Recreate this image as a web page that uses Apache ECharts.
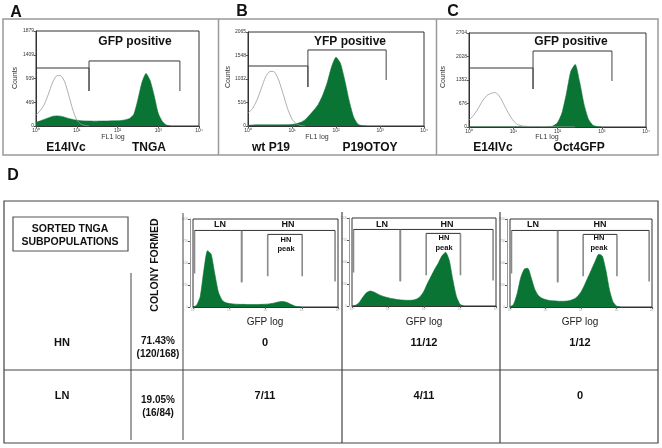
<!DOCTYPE html>
<html>
<head>
<meta charset="utf-8">
<script src="https://cdn.jsdelivr.net/npm/echarts@6/dist/echarts.min.js"></script>
<style>
html, body {margin: 0; padding: 0; background: #fff;}
#main {width: 662px; height: 448px;}
</style>
</head>
<body>
<div id="main"></div>
<script>
// one count per 0.1 decade, starting at 10^0
const binStep = 0.1;

// panel A  (E14IVc outline, TNGA filled)
const countsE14A = [217, 300, 420, 620, 850, 990, 1000, 880, 620, 330, 120, 40, 10, 0];
const countsTnga = [70, 100, 130, 160, 190, 200, 195, 175, 150, 130, 115, 105, 100, 98, 96, 96, 97, 98, 100, 102, 105, 110, 125, 150, 230, 520, 860, 1040, 900, 600, 250, 90, 20, 0];
// panel B  (wt P19 outline, P19OTOY filled)
const countsP19 = [285, 380, 560, 820, 1080, 1200, 1190, 1000, 700, 380, 150, 50, 10, 0];
const countsOtoy = [15, 20, 25, 25, 25, 25, 25, 25, 28, 30, 35, 50, 80, 140, 240, 350, 480, 680, 950, 1300, 1510, 1380, 1000, 550, 200, 40, 5, 0];
// panel C  (E14IVc outline, Oct4GFP filled)
const countsE14C = [200, 330, 520, 740, 900, 970, 990, 860, 620, 380, 180, 70, 30, 20, 15, 15, 12, 10, 10, 8, 5, 4, 3, 2, 0];
const countsOct4 = [0, 0, 0, 0, 0, 0, 0, 0, 0, 0, 0, 0, 0, 0, 0, 0, 0, 0, 5, 30, 120, 400, 950, 1600, 1800, 1300, 650, 220, 50, 10, 0];
// panel D  (sorted TNGA subpopulations, GFP log)
const countsD1 = [0, 20, 120, 420, 640, 600, 380, 170, 80, 50, 40, 35, 32, 30, 30, 28, 28, 27, 28, 30, 32, 35, 42, 52, 60, 62, 50, 30, 12, 3, 0];
const countsD2 = [0, 8, 40, 100, 150, 170, 160, 140, 120, 105, 95, 85, 78, 72, 68, 65, 64, 68, 80, 110, 170, 260, 340, 420, 490, 570, 610, 520, 300, 110, 20, 0];
const countsD3 = [0, 30, 150, 330, 430, 440, 330, 200, 130, 100, 85, 75, 70, 68, 65, 65, 68, 75, 90, 120, 170, 250, 340, 430, 520, 600, 580, 420, 200, 60, 10, 0];

// y axis ranges of the cytometer plots
const yMaxA = 1879, yMaxB = 2065, yMaxC = 2704, yMaxD = 1000;

// gates: [xLeft, xRight, yTop, yBottomLeft, yBottomRight]
const gatesA = [[1, 20, 1147, 1147, 692], [20, 3400, 1286, 692, 692]];
const gatesB = [[1, 23, 1318, 1318, 857], [23, 1380, 1670, 857, 1010]];
const gatesC = [[1, 28, 1697, 1697, 1093], [28, 1700, 2186, 1093, 1323]];
const gatesD = [[1.1, 22, 870, 380, 280], [22, 8300, 870, 280, 290], [115, 1030, 825, 350, 350]];

const sup = ['\u2070', '\u00b9', '\u00b2', '\u00b3', '\u2074'];
const FONT = '"Liberation Sans", Arial, sans-serif';
const GREEN = '#0a7434';

function histData(counts) {
    return counts.map(function (c, i) {
        return [Math.pow(10, i * binStep), c];
    });
}

let grids = [
    {left: 36, top: 31, width: 163, height: 95},
    {left: 248, top: 32, width: 176, height: 94},
    {left: 469, top: 33, width: 177, height: 94},
    {left: 193, top: 219, width: 145, height: 88},
    {left: 352, top: 218, width: 144, height: 88},
    {left: 510, top: 219, width: 142, height: 88}
];
grids.forEach(function (g) {
    g.show = true;
    g.borderColor = '#333';
    g.borderWidth = 1;
    g.backgroundColor = 'transparent';
});

let yMaxes = [yMaxA, yMaxB, yMaxC, yMaxD, yMaxD, yMaxD];
let xAxes = [], yAxes = [];
for (let i = 0; i < 6; i++) {
    let small = i >= 3;
    xAxes.push({
        type: 'log', logBase: 10, gridIndex: i, min: 1, max: 10000,
        axisLine: {show: true, onZero: false, lineStyle: {color: '#333', width: 1}},
        axisTick: {show: true, length: 2, lineStyle: {color: '#555'}},
        axisLabel: {
            fontSize: small ? 3 : 5, margin: 2, color: small ? '#aaa' : '#333', fontFamily: FONT,
            formatter: function (v) { return '10' + sup[Math.round(Math.log10(v))]; }
        },
        splitLine: {show: false}
    });
    yAxes.push({
        type: 'value', gridIndex: i, min: 0, max: yMaxes[i], interval: yMaxes[i] / 4,
        offset: small ? 3 : 0,
        axisLine: {show: true, lineStyle: {color: small ? '#999' : '#333', width: 1}},
        axisTick: {show: true, length: 2, lineStyle: {color: '#555'}},
        axisLabel: {
            fontSize: small ? 3 : 5, margin: 2, color: small ? '#aaa' : '#333', fontFamily: FONT,
            formatter: function (v) { return String(Math.floor(v)); }
        },
        splitLine: {show: false}
    });
}

let series = [];
function addFilled(counts, idx) {
    series.push({
        type: 'line', xAxisIndex: idx, yAxisIndex: idx, data: histData(counts),
        symbol: 'none', smooth: 0.2, z: 2,
        lineStyle: {color: GREEN, width: 0.6},
        areaStyle: {color: GREEN, opacity: 1}
    });
}
function addOutline(counts, idx) {
    series.push({
        type: 'line', xAxisIndex: idx, yAxisIndex: idx, data: histData(counts),
        symbol: 'none', smooth: 0.2, z: 3,
        lineStyle: {color: '#9a9a9a', width: 0.8}
    });
}
function seg(idx, pts, color, width) {
    series.push({
        type: 'line', xAxisIndex: idx, yAxisIndex: idx, data: pts,
        symbol: 'none', z: 4, silent: true,
        lineStyle: {color: color, width: width}
    });
}
// horizontal bar dark, the two legs a lighter grey
function addGates(gates, idx, legColor, legWidth) {
    gates.forEach(function (g) {
        seg(idx, [[g[0], g[3]], [g[0], g[2]]], legColor, legWidth);
        seg(idx, [[g[1], g[2]], [g[1], g[4]]], legColor, legWidth);
        seg(idx, [[g[0], g[2]], [g[1], g[2]]], '#333', 1);
    });
}

addFilled(countsTnga, 0);
addOutline(countsE14A, 0);
addGates(gatesA, 0, '#444', 1);
addFilled(countsOtoy, 1);
addOutline(countsP19, 1);
addGates(gatesB, 1, '#444', 1);
addFilled(countsOct4, 2);
addOutline(countsE14C, 2);
addGates(gatesC, 2, '#444', 1);
addFilled(countsD1, 3);
addGates(gatesD, 3, '#8a8a8a', 1.6);
addFilled(countsD2, 4);
addGates(gatesD, 4, '#8a8a8a', 1.6);
addFilled(countsD3, 5);
addGates(gatesD, 5, '#8a8a8a', 1.6);

function txt(s, x, y, size, bold, opts) {
    opts = opts || {};
    return {
        type: 'text', x: x, y: y, rotation: opts.rot || 0, z: 10,
        style: {
            text: s, fill: opts.color || '#111',
            font: (bold ? 'bold ' : '') + size + 'px ' + FONT,
            align: 'center', verticalAlign: 'middle',
            textAlign: 'center', textVerticalAlign: 'middle'
        }
    };
}
function ln(x1, y1, x2, y2, color, w) {
    return {
        type: 'line', z: 9, silent: true,
        shape: {x1: x1, y1: y1, x2: x2, y2: y2},
        style: {stroke: color, lineWidth: w}
    };
}
function box(x, y, w, h, color, lw) {
    return {
        type: 'rect', z: 9, silent: true,
        shape: {x: x, y: y, width: w, height: h},
        style: {fill: 'none', stroke: color, lineWidth: lw}
    };
}

let graphics = [
    // top panels frame
    box(3, 19, 655, 136, '#999', 1.5),
    ln(218.5, 19, 218.5, 155, '#999', 1.5),
    ln(436.5, 19, 436.5, 155, '#999', 1.5),
    txt('A', 16, 13, 16, true),
    txt('B', 242, 12, 16, true),
    txt('C', 453, 12, 16, true),
    txt('GFP positive', 135, 42, 12, true),
    txt('YFP positive', 350, 42, 12, true),
    txt('GFP positive', 571, 42, 12, true),
    txt('E14IVc', 66, 148, 12, true),
    txt('TNGA', 149, 148, 12, true),
    txt('wt P19', 271, 148, 12, true),
    txt('P19OTOY', 370, 148, 12, true),
    txt('E14IVc', 493, 148, 12, true),
    txt('Oct4GFP', 579, 148, 12, true),
    txt('FL1 log', 113, 137, 7, false, {color: '#333'}),
    txt('FL1 log', 317, 137, 7, false, {color: '#333'}),
    txt('FL1 log', 547, 137, 7, false, {color: '#333'}),
    txt('Counts', 15, 78, 7, false, {rot: Math.PI / 2, color: '#333'}),
    txt('Counts', 228, 77, 7, false, {rot: Math.PI / 2, color: '#333'}),
    txt('Counts', 443, 77, 7, false, {rot: Math.PI / 2, color: '#333'}),

    // panel D table
    txt('D', 13, 176, 16, true),
    box(4, 201, 654, 242, '#444', 1.2),
    ln(4, 370, 658, 370, '#444', 1.2),
    ln(131, 273, 131, 440, '#444', 1),
    ln(183, 213, 183, 440, '#444', 1),
    ln(342, 212, 342, 443, '#444', 1.2),
    ln(500, 212, 500, 443, '#444', 1.2),
    box(13, 217, 115, 34, '#555', 1.2),
    txt('SORTED TNGA', 70, 229, 10.5, true),
    txt('SUBPOPULATIONS', 70, 242, 10.5, true),
    txt('COLONY FORMED', 155, 265, 10.5, true, {rot: Math.PI / 2}),
    txt('HN', 62, 343, 11, true),
    txt('LN', 62, 396, 11, true),
    txt('71.43%', 158, 341, 10, true),
    txt('(120/168)', 158, 354, 10, true),
    txt('19.05%', 158, 400, 10, true),
    txt('(16/84)', 158, 413, 10, true),
    txt('0', 265, 343, 11, true),
    txt('11/12', 424, 343, 11, true),
    txt('1/12', 580, 343, 11, true),
    txt('7/11', 265, 396, 11, true),
    txt('4/11', 424, 396, 11, true),
    txt('0', 580, 396, 11, true),
    txt('GFP log', 265, 322, 10, false, {color: '#222'}),
    txt('GFP log', 424, 322, 10, false, {color: '#222'}),
    txt('GFP log', 580, 322, 10, false, {color: '#222'}),

    txt('LN', 220, 225, 9, true), txt('HN', 288, 225, 9, true),
    txt('HN', 286, 240, 7.5, true), txt('peak', 286, 249, 7.5, true),
    txt('LN', 382, 225, 9, true), txt('HN', 447, 225, 9, true),
    txt('HN', 444, 238, 7.5, true), txt('peak', 444, 248, 7.5, true),
    txt('LN', 533, 225, 9, true), txt('HN', 600, 225, 9, true),
    txt('HN', 599, 238, 7.5, true), txt('peak', 599, 248, 7.5, true)
];

let chart = echarts.init(document.getElementById('main'), null, {renderer: 'canvas'});
chart.setOption({
    animation: false,
    backgroundColor: '#fff',
    grid: grids,
    xAxis: xAxes,
    yAxis: yAxes,
    series: series,
    graphic: graphics
});
</script>
</body>
</html>
